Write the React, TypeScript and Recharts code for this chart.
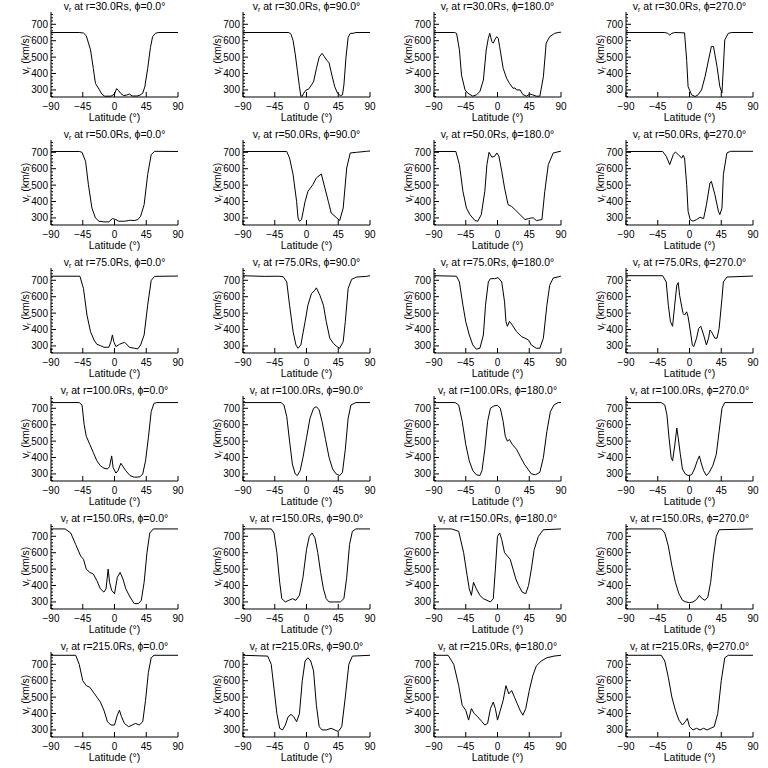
import { Line, LineChart, XAxis, YAxis } from 'recharts';

type Point = [number, number];

const radii = ['30.0', '50.0', '75.0', '100.0', '150.0', '215.0'];
const longitudes = ['0.0', '90.0', '180.0', '270.0'];
const latTicks = [-90, -45, 0, 45, 90];
const vTicks = [260, 280, 300, 320, 340, 360, 380, 400, 420, 440, 460, 480, 500, 520, 540, 560, 580, 600, 620, 640, 660, 680, 700, 720, 740, 760];
const vMajor = [300, 400, 500, 600, 700];

// r = 30 Rs
const r30phi0: Point[] = [[-90, 650], [-50, 650], [-44, 647], [-40, 630], [-34, 545], [-30, 430], [-27, 340], [-22, 305], [-18, 275], [-14, 262], [-5, 262], [0, 275], [3, 308], [6, 295], [9, 278], [13, 265], [18, 270], [21, 275], [25, 263], [32, 263], [36, 268], [40, 280], [43, 320], [47, 430], [51, 560], [54, 625], [58, 645], [62, 650], [90, 650]];
const r30phi90: Point[] = [[-90, 650], [-25, 650], [-22, 640], [-19, 600], [-16, 520], [-13, 420], [-10, 320], [-8, 262], [-6, 262], [-4, 280], [-1, 298], [3, 305], [7, 330], [10, 350], [14, 430], [18, 500], [22, 523], [25, 505], [29, 480], [32, 465], [36, 390], [40, 320], [44, 280], [48, 265], [51, 270], [53, 330], [56, 500], [59, 620], [62, 645], [66, 645], [70, 650], [90, 650]];
const r30phi180: Point[] = [[-90, 650], [-61, 650], [-58, 645], [-54, 545], [-51, 390], [-46, 300], [-42, 280], [-35, 262], [-30, 270], [-25, 290], [-20, 360], [-16, 543], [-13, 615], [-11, 645], [-8, 595], [-6, 585], [-4, 605], [-1, 625], [1, 615], [3, 565], [8, 432], [13, 370], [17, 340], [22, 310], [25, 312], [27, 300], [32, 300], [36, 272], [41, 262], [46, 275], [50, 270], [55, 262], [60, 262], [65, 380], [69, 585], [74, 625], [81, 645], [86, 650], [90, 652]];
const r30phi270: Point[] = [[-90, 650], [-35, 650], [-31, 645], [-28, 635], [-25, 645], [-21, 650], [-7, 648], [-4, 480], [-2, 320], [3, 270], [8, 260], [12, 270], [17, 300], [22, 380], [27, 483], [31, 565], [34, 565], [39, 442], [43, 320], [46, 282], [48, 440], [50, 605], [55, 645], [60, 650], [90, 650]];

// r = 50 Rs
const r50phi0: Point[] = [[-90, 705], [-50, 705], [-46, 700], [-41, 645], [-37, 503], [-32, 360], [-27, 300], [-22, 280], [-15, 276], [-8, 276], [-3, 296], [2, 290], [6, 280], [14, 280], [20, 284], [23, 286], [28, 284], [33, 290], [37, 310], [42, 381], [47, 564], [52, 686], [57, 706], [90, 705]];
const r50phi90: Point[] = [[-90, 705], [-28, 705], [-24, 665], [-19, 564], [-14, 400], [-12, 300], [-10, 280], [-7, 290], [-2, 400], [2, 462], [9, 503], [14, 544], [21, 568], [26, 483], [31, 400], [35, 330], [43, 300], [47, 284], [52, 360], [57, 605], [62, 696], [71, 700], [85, 706], [90, 708]];
const r50phi180: Point[] = [[-90, 705], [-59, 705], [-54, 625], [-49, 462], [-44, 360], [-39, 320], [-32, 284], [-28, 280], [-23, 320], [-18, 462], [-15, 625], [-12, 700], [-8, 670], [-4, 676], [-1, 696], [2, 676], [6, 585], [10, 483], [15, 381], [20, 370], [25, 350], [32, 320], [39, 290], [44, 296], [48, 300], [51, 300], [55, 284], [63, 290], [67, 462], [72, 625], [79, 696], [89, 706], [90, 706]];
const r50phi270: Point[] = [[-90, 705], [-38, 705], [-33, 676], [-28, 625], [-23, 686], [-20, 702], [-16, 686], [-11, 665], [-9, 682], [-7, 665], [-4, 503], [-2, 340], [1, 290], [5, 280], [10, 290], [15, 304], [20, 296], [24, 380], [29, 513], [31, 523], [36, 442], [41, 340], [43, 320], [46, 360], [48, 564], [53, 696], [58, 706], [90, 706]];

// r = 75 Rs
const r75phi0: Point[] = [[-90, 725], [-49, 725], [-44, 650], [-39, 488], [-34, 387], [-29, 336], [-25, 310], [-20, 302], [-15, 292], [-8, 292], [-5, 326], [-3, 367], [-1, 326], [2, 296], [7, 310], [14, 322], [16, 316], [21, 292], [28, 286], [33, 282], [37, 306], [42, 367], [47, 548], [52, 700], [57, 724], [90, 726]];
const r75phi90: Point[] = [[-90, 728], [-60, 724], [-40, 725], [-33, 722], [-28, 690], [-24, 548], [-19, 387], [-15, 306], [-12, 286], [-8, 306], [-2, 448], [2, 548], [7, 619], [12, 640], [14, 654], [19, 609], [24, 548], [28, 448], [33, 347], [38, 316], [43, 296], [47, 286], [52, 326], [55, 448], [59, 650], [64, 706], [71, 720], [85, 724], [90, 728]];
const r75phi180: Point[] = [[-90, 728], [-58, 725], [-54, 690], [-49, 548], [-45, 448], [-40, 367], [-35, 306], [-30, 280], [-25, 286], [-20, 367], [-17, 548], [-13, 690], [-10, 710], [-4, 710], [1, 716], [6, 690], [10, 569], [12, 448], [14, 420], [17, 450], [21, 427], [27, 387], [34, 357], [39, 347], [44, 336], [48, 306], [55, 286], [60, 286], [65, 347], [70, 548], [74, 670], [79, 714], [89, 724], [90, 726]];
const r75phi270: Point[] = [[-90, 728], [-38, 728], [-33, 690], [-30, 548], [-27, 448], [-24, 420], [-21, 548], [-18, 670], [-16, 686], [-14, 609], [-11, 538], [-9, 498], [-7, 488], [-4, 508], [-2, 478], [1, 397], [4, 306], [6, 296], [10, 347], [13, 407], [16, 420], [20, 367], [24, 306], [27, 347], [29, 397], [31, 387], [36, 347], [39, 347], [42, 407], [46, 589], [48, 690], [53, 720], [90, 726]];

// r = 100 Rs
const r100phi0: Point[] = [[-90, 735], [-50, 735], [-46, 720], [-43, 600], [-40, 530], [-35, 480], [-30, 430], [-25, 380], [-20, 350], [-15, 335], [-10, 330], [-7, 345], [-4, 410], [-2, 340], [2, 305], [5, 320], [9, 365], [12, 345], [16, 320], [22, 290], [28, 280], [36, 282], [40, 300], [44, 380], [48, 520], [52, 680], [56, 730], [60, 735], [90, 735]];
const r100phi90: Point[] = [[-90, 735], [-36, 735], [-32, 720], [-28, 650], [-24, 500], [-20, 360], [-16, 300], [-13, 290], [-9, 320], [-5, 400], [0, 520], [5, 640], [10, 700], [14, 710], [18, 690], [22, 620], [27, 510], [32, 400], [37, 330], [42, 300], [47, 290], [51, 310], [55, 450], [59, 640], [63, 720], [70, 735], [90, 735]];
const r100phi180: Point[] = [[-90, 735], [-60, 735], [-55, 720], [-50, 620], [-45, 480], [-40, 380], [-35, 320], [-30, 295], [-25, 290], [-22, 320], [-18, 450], [-14, 620], [-10, 700], [-5, 715], [0, 718], [4, 700], [8, 620], [11, 530], [14, 500], [17, 510], [21, 480], [27, 450], [33, 400], [38, 360], [43, 330], [48, 300], [54, 295], [60, 310], [65, 400], [70, 560], [75, 680], [80, 720], [86, 735], [90, 735]];
const r100phi270: Point[] = [[-90, 735], [-40, 735], [-35, 720], [-32, 660], [-29, 520], [-26, 400], [-24, 380], [-21, 470], [-18, 580], [-16, 520], [-13, 420], [-10, 330], [-6, 300], [-2, 290], [3, 295], [7, 330], [11, 380], [14, 410], [17, 360], [20, 320], [24, 290], [28, 310], [33, 350], [38, 420], [42, 560], [46, 700], [50, 735], [90, 735]];

// r = 150 Rs
const r150phi0: Point[] = [[-90, 745], [-70, 745], [-62, 720], [-55, 650], [-48, 580], [-44, 560], [-40, 500], [-35, 480], [-30, 470], [-25, 430], [-20, 380], [-15, 360], [-12, 380], [-9, 500], [-7, 420], [-4, 370], [0, 350], [4, 450], [8, 480], [12, 440], [16, 380], [22, 330], [28, 290], [34, 290], [38, 310], [42, 420], [46, 600], [50, 720], [55, 745], [90, 745]];
const r150phi90: Point[] = [[-90, 745], [-50, 745], [-46, 720], [-42, 600], [-38, 420], [-35, 320], [-30, 300], [-25, 310], [-20, 320], [-15, 310], [-10, 340], [-5, 450], [0, 620], [4, 700], [8, 720], [12, 690], [16, 600], [20, 480], [24, 380], [28, 320], [32, 300], [40, 300], [48, 300], [53, 320], [57, 450], [61, 650], [65, 730], [70, 745], [90, 745]];
const r150phi180: Point[] = [[-90, 745], [-65, 745], [-55, 730], [-48, 600], [-43, 460], [-40, 380], [-37, 340], [-34, 420], [-30, 380], [-25, 340], [-20, 320], [-15, 310], [-10, 300], [-6, 320], [-3, 500], [0, 700], [3, 720], [6, 680], [10, 600], [14, 580], [18, 560], [22, 500], [26, 440], [30, 400], [35, 360], [40, 350], [44, 400], [48, 500], [52, 620], [58, 700], [65, 740], [90, 745]];
const r150phi270: Point[] = [[-90, 745], [-40, 745], [-35, 720], [-30, 640], [-25, 520], [-20, 420], [-15, 350], [-10, 310], [-5, 300], [0, 295], [5, 300], [10, 315], [14, 340], [18, 320], [22, 310], [26, 330], [30, 420], [34, 580], [38, 700], [42, 740], [90, 745]];

// r = 215 Rs
const r215phi0: Point[] = [[-90, 755], [-55, 755], [-50, 700], [-45, 600], [-40, 570], [-35, 560], [-30, 530], [-25, 500], [-20, 470], [-15, 420], [-10, 350], [-5, 330], [0, 330], [4, 390], [7, 420], [10, 380], [14, 340], [20, 320], [25, 330], [30, 340], [35, 330], [40, 350], [44, 480], [48, 650], [52, 740], [56, 755], [90, 755]];
const r215phi90: Point[] = [[-90, 755], [-55, 750], [-50, 700], [-46, 550], [-42, 400], [-38, 310], [-34, 300], [-30, 330], [-26, 380], [-22, 395], [-18, 380], [-14, 350], [-10, 400], [-6, 600], [-2, 720], [2, 740], [6, 720], [10, 660], [14, 450], [18, 320], [22, 300], [28, 300], [35, 310], [40, 300], [45, 290], [50, 320], [55, 500], [60, 700], [65, 750], [90, 755]];
const r215phi180: Point[] = [[-90, 755], [-70, 755], [-62, 700], [-55, 570], [-50, 450], [-45, 420], [-41, 360], [-37, 430], [-33, 400], [-28, 380], [-22, 350], [-18, 330], [-14, 340], [-10, 430], [-6, 470], [-3, 430], [0, 360], [4, 420], [8, 480], [12, 570], [16, 520], [20, 540], [24, 500], [28, 460], [32, 420], [36, 390], [40, 430], [45, 540], [50, 630], [55, 690], [62, 720], [70, 740], [80, 750], [90, 755]];
const r215phi270: Point[] = [[-90, 755], [-40, 755], [-35, 720], [-30, 620], [-25, 500], [-20, 420], [-15, 360], [-10, 330], [-6, 350], [-3, 370], [0, 320], [5, 300], [10, 310], [15, 300], [20, 310], [25, 300], [30, 310], [35, 320], [40, 400], [45, 600], [50, 740], [55, 755], [90, 755]];

const grid: Point[][][] = [
  [r30phi0, r30phi90, r30phi180, r30phi270],
  [r50phi0, r50phi90, r50phi180, r50phi270],
  [r75phi0, r75phi90, r75phi180, r75phi270],
  [r100phi0, r100phi90, r100phi180, r100phi270],
  [r150phi0, r150phi90, r150phi180, r150phi270],
  [r215phi0, r215phi90, r215phi180, r215phi270],
];

const FONT = '"Liberation Sans", Arial, sans-serif';
const CELL_W = 192;
const CELL_H = 128;
const PLOT_L = 51;
const PLOT_W = 127;
const PLOT_T = 12;
const PLOT_B = 97;

const fmtLat = (v: number) => (v < 0 ? '\u2212' + Math.abs(v) : String(v));

function BottomTick({ x, y, payload }: any) {
  return (
    <g>
      <line x1={x} y1={y} x2={x} y2={y - 5} stroke="#000" />
      <text x={x} y={y + 13} textAnchor="middle" fontSize={10} fontFamily={FONT} fill="#000">
        {fmtLat(payload.value)}
      </text>
    </g>
  );
}

function TopTick({ x, y }: any) {
  return <line x1={x} y1={y} x2={x} y2={y + 5} stroke="#000" />;
}

function LeftTick({ x, y, payload }: any) {
  const major = vMajor.includes(payload.value);
  return (
    <g>
      <line x1={x} y1={y} x2={x + (major ? 5 : 2)} y2={y} stroke="#000" />
      {major && (
        <text x={x - 3} y={y + 3.5} textAnchor="end" fontSize={10} fontFamily={FONT} fill="#000">
          {payload.value}
        </text>
      )}
    </g>
  );
}

function RightTick({ x, y, payload }: any) {
  const major = vMajor.includes(payload.value);
  return <line x1={x} y1={y} x2={x - (major ? 5 : 2)} y2={y} stroke="#000" />;
}

function Panel({ points, row, col }: { points: Point[]; row: number; col: number }) {
  const data = points.map(([lat, v]) => ({ lat, v }));
  const cx = PLOT_L + PLOT_W / 2;
  const cy = (PLOT_T + PLOT_B) / 2;
  return (
    <div style={{ position: 'absolute', left: Math.round(col * 191.67), top: row * CELL_H, width: CELL_W, height: CELL_H }}>
      <LineChart width={CELL_W} height={CELL_H} data={data} margin={{ top: PLOT_T, right: CELL_W - PLOT_L - PLOT_W, bottom: 0, left: 0 }}>
        <XAxis xAxisId="b" dataKey="lat" type="number" domain={[-90, 90]} ticks={latTicks} interval={0} height={CELL_H - PLOT_B} tickSize={0} tickMargin={0} tickLine={false} axisLine={{ stroke: '#000' }} tick={(p: any) => <BottomTick {...p} />} allowDataOverflow />
        <XAxis xAxisId="t" orientation="top" dataKey="lat" type="number" domain={[-90, 90]} ticks={latTicks} interval={0} height={0} tickSize={0} tickMargin={0} tickLine={false} axisLine={{ stroke: '#000' }} tick={(p: any) => <TopTick {...p} />} allowDataOverflow />
        <YAxis yAxisId="l" type="number" domain={[257, 775]} ticks={vTicks} interval={0} width={PLOT_L} tickSize={0} tickMargin={0} tickLine={false} axisLine={{ stroke: '#000' }} tick={(p: any) => <LeftTick {...p} />} allowDataOverflow />
        <YAxis yAxisId="r" orientation="right" type="number" domain={[257, 775]} ticks={vTicks} interval={0} width={0} tickSize={0} tickMargin={0} tickLine={false} axisLine={{ stroke: '#000' }} tick={(p: any) => <RightTick {...p} />} allowDataOverflow />
        <Line xAxisId="t" yAxisId="r" dataKey="v" type="linear" stroke="none" dot={false} activeDot={false} isAnimationActive={false} />
        <Line xAxisId="b" yAxisId="l" dataKey="v" type="linear" stroke="#000" strokeWidth={1} dot={false} activeDot={false} isAnimationActive={false} />
      </LineChart>
      <svg width={CELL_W} height={CELL_H} style={{ position: 'absolute', left: 0, top: 0, pointerEvents: 'none' }} fontFamily={FONT} fill="#000">
        <text x={cx} y={9.5} textAnchor="middle" fontSize={10.5}>
          v<tspan fontSize={7} dy={2}>r</tspan>
          <tspan dy={-2}>{` at r=${radii[row]}Rs, \u03D5=${longitudes[col]}\u00B0`}</tspan>
        </text>
        <text transform={`translate(29,${cy}) rotate(-90)`} textAnchor="middle" fontSize={10.5}>
          v<tspan fontSize={7} dy={2}>r</tspan>
          <tspan dy={-2}>{' (km/s)'}</tspan>
        </text>
        <text x={cx} y={121} textAnchor="middle" fontSize={10.5}>
          {'Latitude (\u00B0)'}
        </text>
      </svg>
    </div>
  );
}

export default function App() {
  return (
    <div style={{ position: 'absolute', left: 0, top: 0, width: 768, height: 768, background: '#fff', overflow: 'hidden' }}>
      {grid.map((rowPanels, row) => rowPanels.map((points, col) => <Panel key={`${row}-${col}`} points={points} row={row} col={col} />))}
    </div>
  );
}
